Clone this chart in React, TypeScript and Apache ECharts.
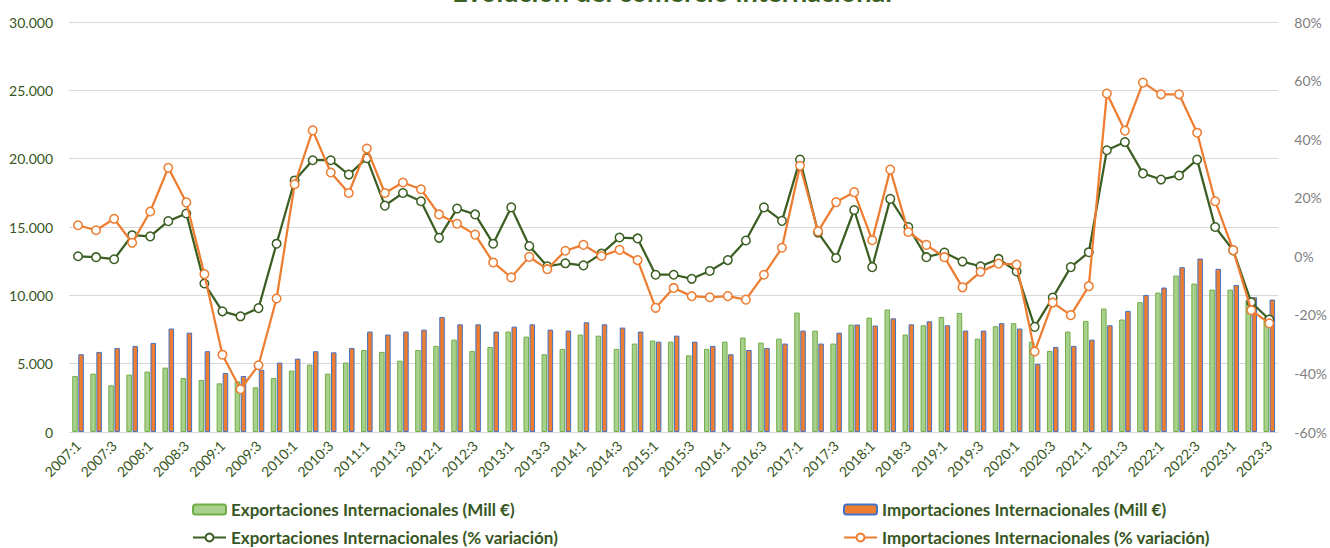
import React, { useEffect, useRef } from "react";
import * as echarts from "echarts";

const years = [2007, 2008, 2009, 2010, 2011, 2012, 2013, 2014, 2015, 2016, 2017, 2018, 2019, 2020, 2021, 2022, 2023];
const categories: string[] = [];
years.forEach((y) => {
  for (let q = 1; q <= 4; q++) {
    if (y === 2023 && q > 3) break;
    categories.push(`${y}:${q}`);
  }
});

const exportsMill = [
  4100, 4270, 3420, 4200,
  4420, 4710, 3950, 3810,
  3560, 3710, 3270, 3950,
  4490, 4930, 4270, 5080,
  6000, 5860, 5220, 6000,
  6300, 6760, 5930, 6220,
  7350, 6980, 5690, 6080,
  7130, 7050, 6080, 6470,
  6690, 6610, 5610, 6080,
  6610, 6910, 6540, 6830,
  8740, 7420, 6470, 7860,
  8370, 8960, 7130, 7810,
  8420, 8710, 6830, 7740,
  7960, 6610, 5930, 7350,
  8130, 9030, 8230, 9500,
  10200, 11450, 10860, 10420,
  10420, 9640, 8390,
];

const importsMill = [
  5690, 5860, 6150, 6300,
  6520, 7570, 7270, 5910,
  4320, 4100, 4560, 5080,
  5370, 5910, 5830, 6150,
  7350, 7130, 7350, 7490,
  8420, 7880, 7880, 7350,
  7710, 7880, 7490, 7420,
  8030, 7880, 7640, 7350,
  6610, 7050, 6610, 6300,
  5690, 6000, 6150, 6470,
  7420, 6470, 7270, 7860,
  7790, 8320, 7880, 8100,
  7810, 7420, 7420, 7960,
  7570, 4980, 6220, 6300,
  6760, 7810, 8860, 10030,
  10570, 12060, 12690, 11940,
  10760, 9860, 9690,
];

const exportsPct = [
  0.0, -0.3, -1.0, 7.2,
  6.8, 12.0, 14.6, -9.3,
  -18.8, -20.5, -17.7, 4.3,
  25.9, 32.8, 32.8, 27.9,
  33.5, 17.3, 21.6, 18.8,
  6.3, 16.3, 14.3, 4.3,
  16.7, 3.5, -3.4, -2.4,
  -3.1, 0.9, 6.4, 6.1,
  -6.3, -6.3, -7.7, -5.0,
  -1.3, 5.4, 16.7, 12.1,
  33.0, 8.1, -0.6, 15.8,
  -3.7, 19.6, 10.0, -0.3,
  1.3, -1.8, -3.4, -0.9,
  -5.2, -24.1, -14.1, -3.7,
  1.4, 36.2, 39.0, 28.3,
  26.2, 27.6, 33.0, 10.0,
  2.0, -15.7, -21.6,
];

const importsPct = [
  10.6, 8.9, 12.8, 4.6,
  15.3, 30.2, 18.4, -6.1,
  -33.6, -45.4, -37.2, -14.4,
  24.6, 43.0, 28.6, 21.6,
  36.8, 21.6, 25.2, 22.9,
  14.3, 11.1, 7.4, -2.1,
  -7.2, -0.2, -4.4, 1.9,
  3.9, 0.1, 2.2, -1.3,
  -17.6, -10.8, -13.6, -14.0,
  -13.6, -14.8, -6.3, 2.9,
  30.9, 8.5, 18.5, 21.9,
  5.5, 29.6, 8.3, 3.9,
  -0.3, -10.6, -5.3, -2.5,
  -2.8, -32.5, -15.8, -20.1,
  -10.2, 55.6, 42.9, 59.3,
  55.3, 55.3, 42.2, 18.8,
  2.1, -18.4, -22.9,
];

const TITLE = "Evolución del comercio internacional";
const NAME_EXP = "Exportaciones Internacionales (Mill €)";
const NAME_IMP = "Importaciones Internacionales (Mill €)";
const NAME_EXP_PCT = "Exportaciones Internacionales (% variación)";
const NAME_IMP_PCT = "Importaciones Internacionales (% variación)";

const FONT = "Lato, 'Open Sans', sans-serif";
const DARK_GREEN = "#375623";

function fmtThousands(v: number): string {
  const s = Math.round(v).toString();
  return s.replace(/\B(?=(\d{3})+(?!\d))/g, ".");
}

export default function App() {
  const ref = useRef<HTMLDivElement>(null);
  useEffect(() => {
    if (!ref.current) return;
    const chart = echarts.init(ref.current, null, { renderer: "svg" });
    const legendText = {
      color: DARK_GREEN,
      fontFamily: FONT,
      fontWeight: "bold" as const,
      fontSize: 17,
      lineHeight: 17,
    };
    const mkLegend = (name: string, left: number, top: number) => ({
      data: [name],
      left,
      top,
      padding: 0,
      itemWidth: 33,
      itemHeight: 10,
      textStyle: legendText,
      selectedMode: false,
    });
    chart.setOption({
      animation: false,
      backgroundColor: "#ffffff",
      textStyle: { fontFamily: FONT },
      graphic: [
        {
          type: "text",
          x: 672,
          y: -9,
          style: {
            text: TITLE,
            font: `bold 27px ${FONT}`,
            fill: "#3b5e22",
            align: "center",
            verticalAlign: "middle",
          },
        },
      ],
      legend: [
        mkLegend(NAME_EXP, 192, 501),
        mkLegend(NAME_IMP, 843, 501),
        mkLegend(NAME_EXP_PCT, 192, 529),
        mkLegend(NAME_IMP_PCT, 843, 529),
      ],
      grid: { left: 69, right: 47, top: 22, bottom: 116, containLabel: false },
      xAxis: {
        type: "category",
        data: categories,
        boundaryGap: true,
        axisLine: { show: false },
        axisTick: { show: false },
        axisLabel: {
          interval: 1,
          rotate: 45,
          color: DARK_GREEN,
          fontSize: 14,
          fontFamily: FONT,
          margin: 11,
        },
      },
      yAxis: [
        {
          type: "value",
          min: 0,
          max: 30000,
          interval: 5000,
          axisLine: { show: false },
          axisTick: { show: false },
          splitLine: { lineStyle: { color: "#d9d9d9", width: 1 } },
          axisLabel: {
            color: DARK_GREEN,
            fontSize: 14,
            fontFamily: FONT,
            margin: 16,
            formatter: (v: number) => fmtThousands(v),
          },
        },
        {
          type: "value",
          min: -60,
          max: 80,
          interval: 20,
          axisLine: { show: false },
          axisTick: { show: false },
          splitLine: { show: false },
          axisLabel: {
            color: "#808080",
            fontSize: 14,
            fontFamily: FONT,
            margin: 16,
            formatter: (v: number) => `${v}%`,
          },
        },
      ],
      series: [
        {
          name: NAME_EXP,
          type: "bar",
          data: exportsMill,
          yAxisIndex: 0,
          barWidth: 5.5,
          barGap: "10%",
          itemStyle: { color: "#a9d18e", borderColor: "#70ad47", borderWidth: 1 },
        },
        {
          name: NAME_IMP,
          type: "bar",
          data: importsMill,
          yAxisIndex: 0,
          barWidth: 5.5,
          barGap: "10%",
          itemStyle: { color: "#ed7d31", borderColor: "#4472c4", borderWidth: 1 },
        },
        {
          name: NAME_EXP_PCT,
          type: "line",
          data: exportsPct,
          yAxisIndex: 1,
          symbol: "circle",
          symbolSize: 8.5,
          lineStyle: { color: "#3b5e22", width: 2.25 },
          itemStyle: { color: "#ffffff", borderColor: "#3b5e22", borderWidth: 1.5 },
          z: 5,
        },
        {
          name: NAME_IMP_PCT,
          type: "line",
          data: importsPct,
          yAxisIndex: 1,
          symbol: "circle",
          symbolSize: 8.5,
          lineStyle: { color: "#ed7d31", width: 2.25 },
          itemStyle: { color: "#ffffff", borderColor: "#ed7d31", borderWidth: 1.5 },
          z: 6,
        },
      ],
    });
    return () => chart.dispose();
  }, []);
  return (
    <div
      ref={ref}
      style={{ position: "absolute", left: 0, top: 0, width: 1330, height: 548, background: "#fff" }}
    />
  );
}
